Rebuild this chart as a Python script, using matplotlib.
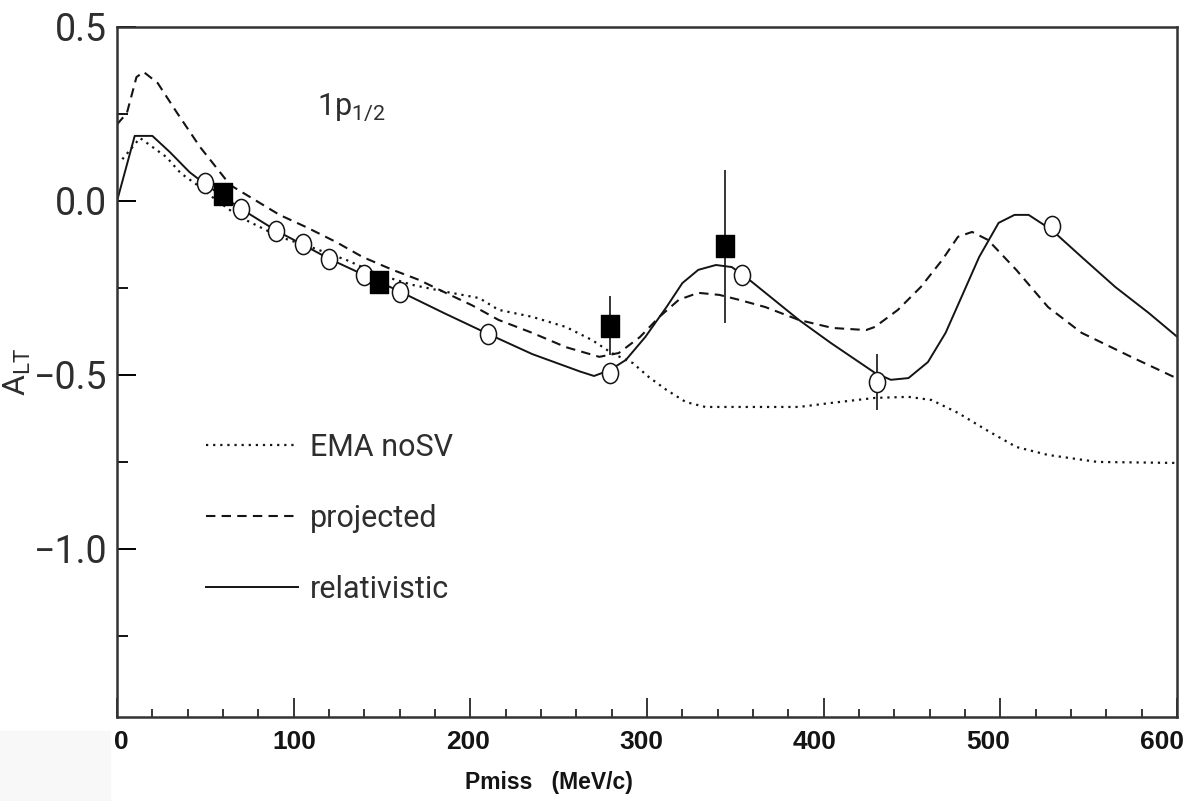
"""
Longitudinal-transverse asymmetry A_LT for the 1p1/2 shell vs missing momentum.
"""

import matplotlib

matplotlib.use("Agg")
import matplotlib.pyplot as plt
from matplotlib.patches import Rectangle
from matplotlib.path import Path
from matplotlib.transforms import Affine2D, ScaledTranslation, blended_transform_factory
from matplotlib.ticker import MultipleLocator, FixedLocator

# --- model curves -----------------------------------------------------------
rel_p = [0, 10, 20, 30, 41, 50, 70, 90, 105, 120, 140, 160, 185, 210, 235, 262,
         270, 279, 288, 299, 311, 320, 329, 339, 348, 358, 386, 404, 429, 438,
         448, 459, 469, 478, 488, 499, 508, 516, 529, 546, 565, 584, 600]
rel_a = [0.0, 0.187, 0.187, 0.14, 0.083, 0.048, -0.022, -0.085, -0.125, -0.166,
         -0.213, -0.260, -0.322, -0.382, -0.44, -0.49, -0.503, -0.486, -0.457,
         -0.391, -0.305, -0.236, -0.198, -0.184, -0.190, -0.227, -0.342, -0.408,
         -0.494, -0.514, -0.509, -0.463, -0.379, -0.276, -0.161, -0.063, -0.040,
         -0.040, -0.083, -0.161, -0.247, -0.322, -0.39]

proj_p = [0, 5.6, 11, 15, 23, 34, 47, 64, 92, 107, 124, 139, 156, 171, 186, 201,
          216, 235, 254, 273, 284, 296, 307, 318, 329, 341, 352, 367, 386, 405,
          424, 429, 442, 455, 467, 476, 484, 493, 509, 527, 546, 574, 600]
proj_a = [0.22, 0.253, 0.356, 0.371, 0.339, 0.253, 0.155, 0.046, -0.04, -0.075,
          -0.118, -0.161, -0.198, -0.227, -0.264, -0.30, -0.342, -0.379, -0.42,
          -0.448, -0.437, -0.391, -0.333, -0.284, -0.264, -0.27, -0.284, -0.305,
          -0.342, -0.365, -0.371, -0.362, -0.313, -0.247, -0.17, -0.103, -0.089,
          -0.112, -0.198, -0.305, -0.379, -0.448, -0.51]

ema_p = [3, 13, 28, 36, 47, 54, 66, 73, 92, 111, 130, 149, 167, 186, 205, 216,
         235, 254, 269, 280, 292, 301, 311, 322, 333, 386, 405, 429, 448, 461,
         476, 492, 509, 527, 555, 600]
ema_a = [0.12, 0.181, 0.126, 0.08, 0.04, 0.011, -0.034, -0.055, -0.103, -0.135,
         -0.17, -0.213, -0.241, -0.261, -0.279, -0.313, -0.333, -0.362, -0.40,
         -0.437, -0.466, -0.506, -0.543, -0.578, -0.592, -0.592, -0.58, -0.566,
         -0.563, -0.572, -0.609, -0.658, -0.707, -0.73, -0.75, -0.753]

# --- measurements -----------------------------------------------------------
open_p = [50, 70, 90, 105, 120, 140, 160, 210, 279, 354, 430, 529]
open_a = [0.052, -0.023, -0.086, -0.124, -0.167, -0.213, -0.261, -0.382,
          -0.494, -0.213, -0.520, -0.072]
open_err = [0.01, 0.01, 0.01, 0.01, 0.01, 0.01, 0.01, 0.01, 0.01, 0.01, 0.08, 0.01]

full_p = [60, 148, 279, 344]
full_a = [0.02, -0.233, -0.359, -0.13]
full_err = [0.01, 0.01, 0.085, 0.22]

x_major = [0, 100, 200, 300, 400, 500, 600]
y_major = [0.5, 0.0, -0.5, -1.0]
y_labels = ["0.5", "0.0", "\u22120.5", "\u22121.0"]

INK = "#141414"
SOFT = "#2e2e2e"
PLAIN = dict(family=["Roboto", "DejaVu Sans"], weight="normal")
BOLD = dict(family=["Liberation Sans", "DejaVu Sans"], weight="bold")

# slightly tall markers, as in the printed figure
oval = Path.unit_circle().transformed(Affine2D().scale(0.8, 1.0))
box = Path.unit_rectangle().transformed(Affine2D().translate(-0.5, -0.5).scale(0.8, 1.0))

fig = plt.figure(figsize=(11.87, 8.01), dpi=100)
fig.patches.append(Rectangle((0, 0), 0.093, 0.088, transform=fig.transFigure,
                             color="#f8f8f8", zorder=0))
ax = fig.add_axes([0.0986, 0.1049, 0.8930, 0.8614])

ax.plot(ema_p, ema_a, color=INK, lw=1.6, ls=(0, (1.0, 2.2)), label="EMA noSV")
ax.plot(proj_p, proj_a, color=INK, lw=1.5, ls=(0, (4.5, 3.0)), label="projected")
ax.plot(rel_p, rel_a, color=INK, lw=1.4, label="relativistic")

ax.errorbar(open_p, open_a, yerr=open_err, fmt="none", ecolor=INK, elinewidth=1.2)
ax.plot(open_p, open_a, ls="none", marker=oval, ms=14.5, mfc="white", mec=INK, mew=1.1)
ax.errorbar(full_p, full_a, yerr=full_err, fmt="none", ecolor=INK, elinewidth=1.2)
ax.plot(full_p, full_a, ls="none", marker=box, ms=15.5, mfc="black", mec="black")

ax.set_xlim(0, 600)
ax.set_ylim(-1.483, 0.5)

ax.xaxis.set_major_locator(FixedLocator(x_major))
ax.xaxis.set_minor_locator(MultipleLocator(20))
ax.yaxis.set_major_locator(FixedLocator(y_major))
ax.yaxis.set_minor_locator(FixedLocator([0.25, -0.25, -0.75, -1.25]))
ax.set_yticklabels(y_labels, color=SOFT, fontsize=27, **PLAIN)

ax.tick_params(axis="x", which="major", direction="in", length=14, width=1.2,
               colors=INK, top=False, labelbottom=False)
ax.tick_params(axis="x", which="minor", direction="in", length=6, width=1.1, top=False)
ax.tick_params(axis="y", which="major", direction="in", length=14, width=1.4,
               pad=7, right=False)
ax.tick_params(axis="y", which="minor", direction="in", length=8, width=1.3, right=False)
for sp in ax.spines.values():
    sp.set_color("#333333")
    sp.set_linewidth(1.8)

# x tick labels drawn by hand: the printed labels creep leftwards along the axis
xlab_tr = blended_transform_factory(ax.transData, ax.transAxes)
for v in x_major:
    shift = ScaledTranslation((4 - 0.032 * v) / 100, -13 / 100, fig.dpi_scale_trans)
    ax.text(v, 0, str(v), transform=xlab_tr + shift, ha="center", va="top",
            fontsize=19, color=INK, **BOLD)

ax.text(0.407, -0.095, "Pmiss   (MeV/c)", transform=ax.transAxes, ha="center",
        va="center", fontsize=16.5, color=INK, **BOLD)
ax.set_ylabel(r"A$_{\mathregular{LT}}$", fontsize=23, color=SOFT, **PLAIN)
ax.yaxis.set_label_coords(-0.079, 0.50)

ax.text(113, 0.247, r"1p$_{\mathregular{1/2}}$", fontsize=22, color=SOFT, **PLAIN)

ax.legend(loc="upper left", bbox_to_anchor=(0.058, 0.452), frameon=False,
          handlelength=3.0, handletextpad=0.4, labelspacing=1.38,
          prop=dict(size=22, **PLAIN), labelcolor=SOFT)

fig.savefig("out.png", dpi=100)
